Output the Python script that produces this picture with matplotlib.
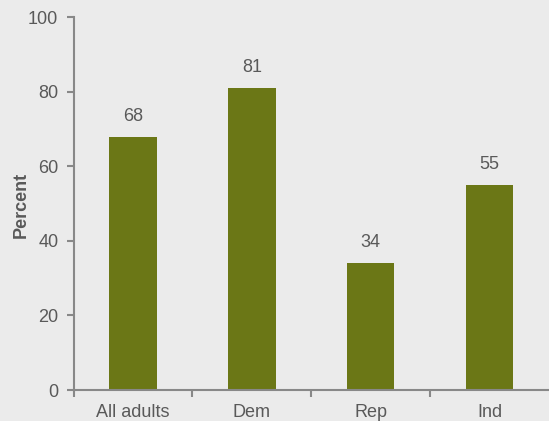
import numpy as np
import matplotlib.pyplot as plt

categories = ['All adults', 'Dem', 'Rep', 'Ind']
values = [68, 81, 34, 55]

plt.rcParams['font.family'] = ['Liberation Sans', 'DejaVu Sans']

bg = '#ebebeb'
bar_color = '#6b7716'
text_color = '#595959'
axis_color = '#888888'

fig = plt.figure(figsize=(5.49, 4.21), dpi=100, facecolor=bg)
ax = fig.add_axes([0.134, 0.0736, 0.866, 0.885])
ax.set_facecolor(bg)

x = np.arange(len(categories))
bars = ax.bar(x, values, width=0.4, color=bar_color, zorder=2)

# value labels above bars
for xi, v in zip(x, values):
    ax.text(xi, v + 4.3, str(v), ha='center', va='baseline', fontsize=13, color=text_color)

ax.set_ylim(0, 100)
ax.set_xlim(-0.5, 3.5)
ax.set_yticks([0, 20, 40, 60, 80, 100])
ax.set_xticks(x)
ax.set_xticklabels(categories)
ax.set_xticks([-0.5, 0.5, 1.5, 2.5], minor=True)
ax.tick_params(axis='x', which='major', length=0, pad=10, labelsize=13, labelcolor=text_color)
ax.tick_params(axis='x', which='minor', length=5, width=1.5, color=axis_color)
ax.tick_params(axis='y', length=5, width=1.5, color=axis_color, labelsize=13, labelcolor=text_color, pad=6)

for s in ['top', 'right']:
    ax.spines[s].set_visible(False)
for s in ['left', 'bottom']:
    ax.spines[s].set_color(axis_color)
    ax.spines[s].set_linewidth(1.5)

fig.text(21 / 549, 0.513, 'Percent', rotation=90, ha='center', va='center',
         fontsize=13, fontweight='bold', color=text_color)

plt.savefig('out.png', dpi=100, facecolor=bg)
